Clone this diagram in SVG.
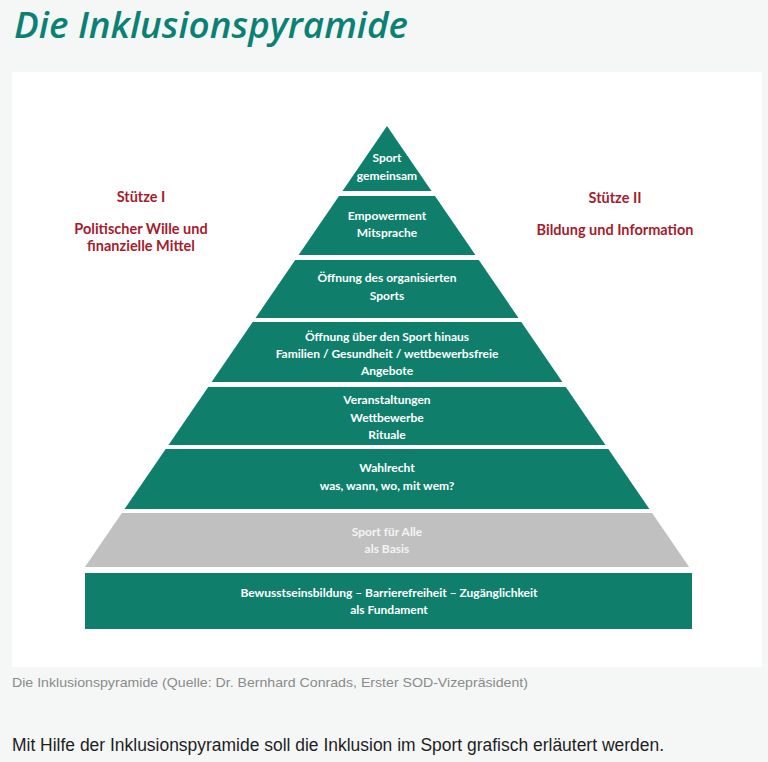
<svg xmlns="http://www.w3.org/2000/svg" width="768" height="762" viewBox="0 0 768 762">
<style>
.lay{fill:#0f7f6b}
.gray{fill:#c0c0c0}
.lt{font-family:Lato,"Open Sans","Liberation Sans",sans-serif;font-weight:700;font-size:12px;fill:#ffffff;text-anchor:middle}
.lg{font-family:Lato,"Open Sans","Liberation Sans",sans-serif;font-weight:700;font-size:12px;fill:#f4f4f4;text-anchor:middle}
.red{font-family:Lato,"Open Sans","Liberation Sans",sans-serif;font-weight:700;font-size:14.5px;fill:#a51c2c;text-anchor:middle}
</style>
<rect x="0" y="0" width="768" height="762" fill="#f5f7f6"/>
<text x="14" y="38" font-family="'Open Sans','Noto Sans',sans-serif" font-style="italic" font-weight="600" font-size="36" fill="#0b8176" textLength="394" lengthAdjust="spacingAndGlyphs">Die Inklusionspyramide</text>
<rect x="12" y="72" width="750" height="595" fill="#ffffff"/>
<g id="stuetze1">
<text class="red" x="141" y="202">Stütze I</text>
<text class="red" x="141" y="234">Politischer Wille und</text>
<text class="red" x="141" y="251">finanzielle Mittel</text>
</g>
<g id="stuetze2">
<text class="red" x="615" y="203">Stütze II</text>
<text class="red" x="615" y="235">Bildung und Information</text>
</g>
<g id="layer1">
<polygon class="lay" points="387,126 431.5,191 342.5,191"/>
<text class="lt" x="387" y="162">Sport</text>
<text class="lt" x="387" y="180">gemeinsam</text>
</g>
<g id="layer2">
<polygon class="lay" points="339,196 435,196 475.4,255 298.6,255"/>
<text class="lt" x="387" y="220">Empowerment</text>
<text class="lt" x="387" y="237">Mitsprache</text>
</g>
<g id="layer3">
<polygon class="lay" points="295.2,260 478.8,260 518.5,318 255.5,318"/>
<text class="lt" x="387" y="282">Öffnung des organisierten</text>
<text class="lt" x="387" y="300">Sports</text>
</g>
<g id="layer4">
<polygon class="lay" points="252.7,322 521.3,322 562.4,382 211.6,382"/>
<text class="lt" x="387" y="341">Öffnung über den Sport hinaus</text>
<text class="lt" x="387" y="358">Familien / Gesundheit / wettbewerbsfreie</text>
<text class="lt" x="387" y="375">Angebote</text>
</g>
<g id="layer5">
<polygon class="lay" points="208.2,387 565.8,387 605.5,445 168.5,445"/>
<text class="lt" x="387" y="404">Veranstaltungen</text>
<text class="lt" x="387" y="422">Wettbewerbe</text>
<text class="lt" x="387" y="439">Rituale</text>
</g>
<g id="layer6">
<polygon class="lay" points="165.7,449 608.3,449 649.4,509 124.6,509"/>
<text class="lt" x="387" y="472">Wahlrecht</text>
<text class="lt" x="387" y="490">was, wann, wo, mit wem?</text>
</g>
<g id="layer7">
<polygon class="gray" points="121.9,513 652.1,513 689.1,567 84.9,567"/>
<text class="lg" x="387" y="536">Sport für Alle</text>
<text class="lg" x="387" y="553">als Basis</text>
</g>
<g id="layer8">
<rect class="lay" x="85" y="573" width="607" height="56"/>
<text class="lt" x="389" y="597">Bewusstseinsbildung – Barrierefreiheit – Zugänglichkeit</text>
<text class="lt" x="389" y="614">als Fundament</text>
</g>
<g id="connectors"/>
<text x="12" y="687" font-family="'Liberation Sans',Arial,sans-serif" font-size="13.5" fill="#8a8a8a" textLength="516" lengthAdjust="spacingAndGlyphs">Die Inklusionspyramide (Quelle: Dr. Bernhard Conrads, Erster SOD-Vizepräsident)</text>
<text x="12" y="751" font-family="'Liberation Sans',Arial,sans-serif" font-size="17.5" fill="#1e1e1e" textLength="652" lengthAdjust="spacingAndGlyphs">Mit Hilfe der Inklusionspyramide soll die Inklusion im Sport grafisch erläutert werden.</text>
</svg>
